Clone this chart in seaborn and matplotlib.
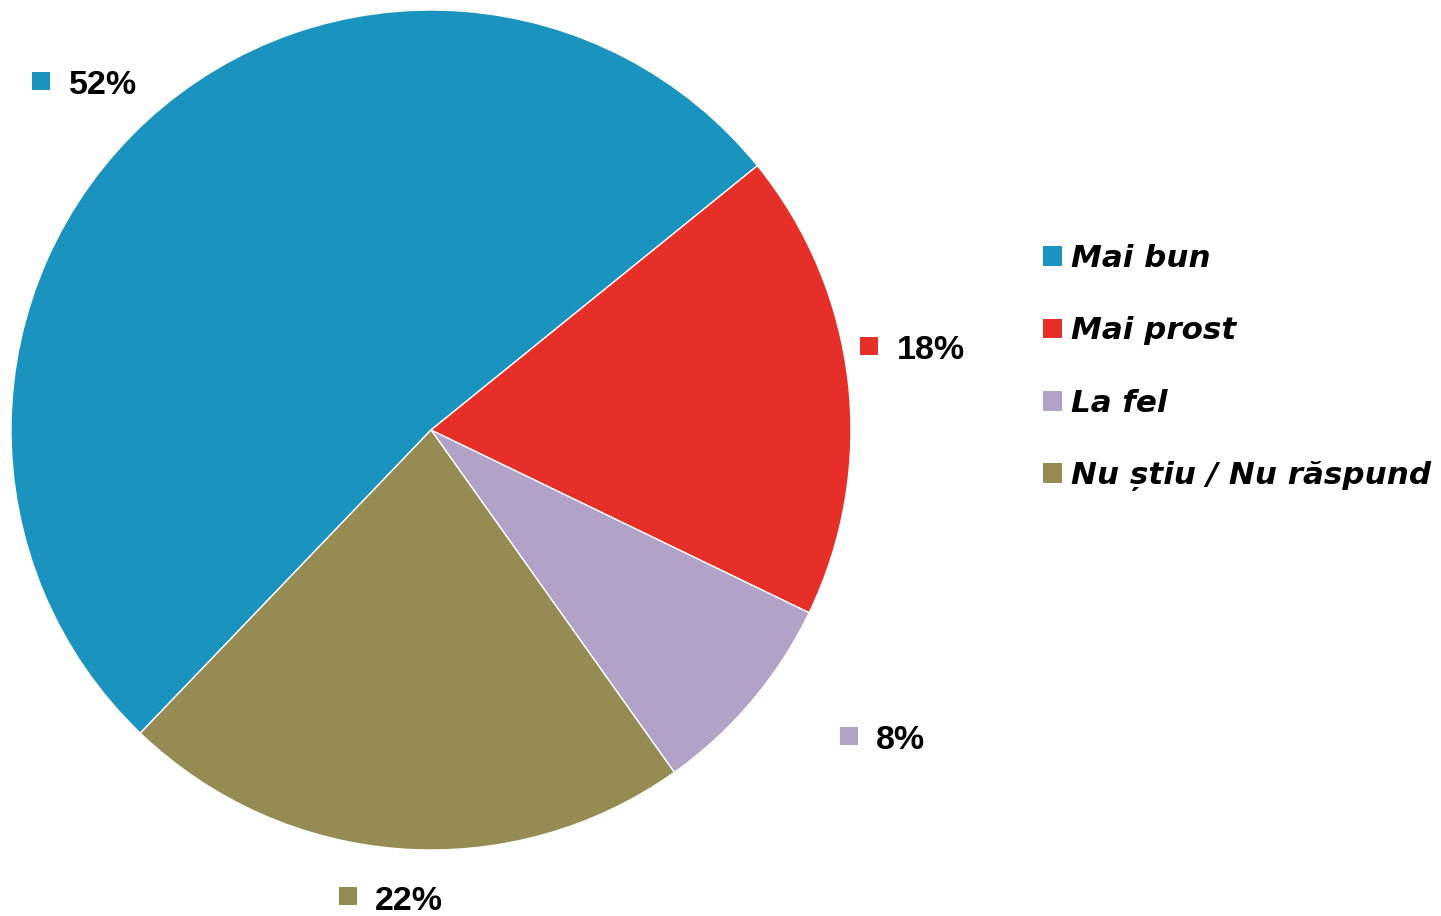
import numpy as np
import matplotlib
matplotlib.use("Agg")
import matplotlib.pyplot as plt
import seaborn as sns
from matplotlib.patches import Patch

# Data
categories = ["Mai bun", "Mai prost", "La fel", "Nu știu / Nu răspund"]
values = [52, 18, 8, 22]
pct_labels = ["52%", "18%", "8%", "22%"]
colors = ["#1A93BF", "#E52F28", "#B3A2C7", "#968B53"]

sns.set_theme(style="white")
plt.rcParams["font.family"] = ["DejaVu Sans"]

fig = plt.figure(figsize=(14.41, 9.16), dpi=100)
W, H = 1441, 916
R = 420
cx, cy = 431, 430
ax = fig.add_axes([(cx - R) / W, (H - cy - R) / H, 2 * R / W, 2 * R / H])

wedges, _ = ax.pie(
    values,
    colors=sns.color_palette(colors),
    startangle=226.2,
    counterclock=False,
    radius=1,
    wedgeprops=dict(edgecolor="white", linewidth=1),
)
ax.set_xlim(-1, 1)
ax.set_ylim(-1, 1)
ax.set_aspect("equal")
ax.axis("off")

# percentage labels outside the slices (angle shift from slice middle, radius)
label_shift = [5.5, 4.3, 4.0, -5.9]
label_radius = [1.246, 1.063, 1.232, 1.128]
for w, txt, col, da, d in zip(wedges, pct_labels, colors, label_shift, label_radius):
    mid = np.deg2rad((w.theta1 + w.theta2) / 2 + da)
    x, y = d * np.cos(mid), d * np.sin(mid)
    ax.plot([x], [y], marker="s", markersize=12.5, color=col, markeredgewidth=0,
            clip_on=False)
    ax.annotate(txt, xy=(x, y), xytext=(19.6, -1), textcoords="offset points",
                ha="left", va="center_baseline", fontsize=24.5, fontweight="bold",
                family=["Liberation Sans", "DejaVu Sans"],
                color="black", annotation_clip=False)

# Legend on the right
handles = [Patch(facecolor=c, edgecolor="none") for c in colors]
leg = fig.legend(
    handles, categories,
    loc="upper left", bbox_to_anchor=(1043 / W, 1 - 244 / H),
    frameon=False, handlelength=0.6, handleheight=0.6, handletextpad=0.3,
    labelspacing=1.4, borderaxespad=0, borderpad=0, labelcolor="black",
    prop=dict(family=["DejaVu Sans"], weight="bold", style="italic", size=22.3),
)

fig.savefig("out.png", dpi=100)
